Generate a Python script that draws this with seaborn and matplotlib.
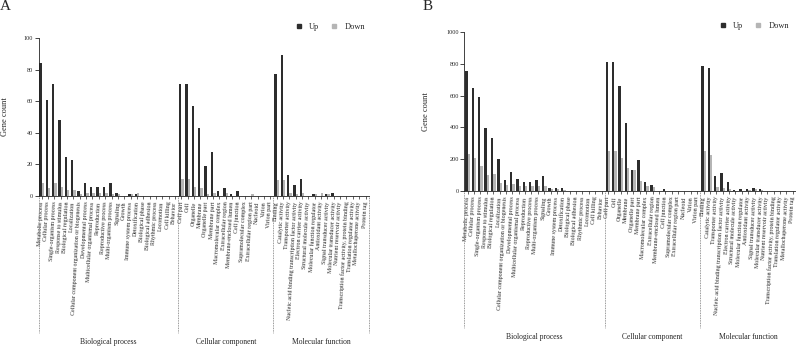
import matplotlib.pyplot as plt
import pandas as pd
import seaborn as sns
from matplotlib.patches import Patch

sns.set_style("ticks")
plt.rcParams['font.family'] = ['Liberation Serif', 'DejaVu Serif']

bp_terms = ['Metabolic process', 'Cellular process', 'Single-organism process',
            'Response to stimulus', 'Biological regulation', 'Localization',
            'Cellular component organization or biogenesis', 'Developmental process',
            'Multicellular organismal process', 'Reproduction', 'Reproductive process',
            'Multi-organism process', 'Signaling', 'Growth', 'Immune system process',
            'Detoxification', 'Biological phase', 'Biological adhesion',
            'Rhythmic process', 'Locomotion', 'Cell killing', 'Behavior']
cc_terms = ['Cell part', 'Cell', 'Organelle', 'Membrane', 'Organelle part',
            'Membrane part', 'Macromolecular complex', 'Extracellular region',
            'Membrane-enclosed lumen', 'Cell junction', 'Supramolecular complex',
            'Extracellular region part', 'Nucleoid', 'Virion', 'Virion part']
mf_terms = ['Binding', 'Catalytic activity', 'Transporter activity',
            'Nucleic acid binding transcription factor activity',
            'Electron carrier activity', 'Structural molecule activity',
            'Molecular function regulator', 'Antioxidant activity',
            'Signal transducer activity', 'Molecular transducer activity',
            'Nutrient reservoir activity', 'Transcription factor activity, protein binding',
            'Translation regulator activity', 'Metallochaperone activity', 'Protein tag']
terms = bp_terms + cc_terms + mf_terms
groups = ['Biological process', 'Cellular component', 'Molecular function']

# panel A
up_a = [84, 61, 71, 48, 25, 23, 3, 8, 6, 6, 6, 8, 2, 0, 1, 1, 0, 0, 0, 0, 0, 0,
        71, 71, 57, 43, 19, 28, 3, 5, 1, 3, 0, 0, 0, 0, 0,
        77, 89, 13, 7, 11, 0, 1, 0, 1, 2, 0, 0, 0, 0, 0]
down_a = [8, 5, 8, 6, 4, 4, 1, 2, 2, 2, 2, 1, 1, 0, 1, 2, 0, 0, 0, 0, 0, 0,
          11, 11, 6, 5, 1, 2, 0, 2, 0, 0, 0, 1, 0, 0, 0,
          10, 10, 2, 1, 2, 0, 1, 2, 1, 0, 0, 0, 0, 0, 0]
# panel B
up_b = [752, 646, 589, 398, 331, 200, 72, 120, 76, 55, 55, 72, 93, 19, 17, 19, 0, 0, 0, 0, 0, 0,
        810, 810, 663, 427, 133, 198, 55, 40, 0, 10, 0, 3, 0, 0, 0,
        787, 773, 97, 112, 55, 5, 10, 13, 19, 15, 0, 0, 0, 0, 0]
down_b = [232, 210, 156, 103, 105, 53, 36, 42, 29, 32, 29, 32, 32, 12, 10, 6, 0, 0, 0, 0, 0, 0,
          252, 252, 208, 143, 130, 63, 30, 25, 0, 3, 0, 3, 0, 0, 0,
          250, 225, 23, 21, 15, 0, 2, 8, 15, 6, 0, 0, 0, 0, 0]

yticks_a = [0, 20, 40, 60, 80, 100]
yticks_b = [0, 200, 400, 600, 800, 1000]

pal = {'Up': '#2d2d2d', 'Down': '#b5b5b5'}


def draw(ax, up, down, yticks, sep_y, lab_y, ylab_x):
    df = pd.DataFrame({'term': terms, 'Up': up, 'Down': down})
    df = df.melt(id_vars='term', var_name='reg', value_name='count')
    sns.barplot(data=df, x='term', y='count', hue='reg', hue_order=['Up', 'Down'],
                palette=pal, width=0.75, saturation=1, legend=False, ax=ax,
                linewidth=0, edgecolor='none')
    ax.set_xlim(-0.5, len(terms) - 0.5)
    ax.set_ylim(0, yticks[-1])
    ax.set_yticks(yticks)
    ax.set_xticks(range(len(terms)))
    ax.set_xticklabels(terms, rotation=87, ha='right', va='center',
                       rotation_mode='anchor', fontsize=4.3)
    ax.tick_params(axis='x', length=2, width=0.5, pad=2)
    ax.tick_params(axis='y', length=3, width=0.6, pad=1, labelsize=4.5)
    ax.set_xlabel('')
    ax.set_ylabel('Gene count', fontsize=6)
    ax.yaxis.set_label_coords(ylab_x, 0.5)
    sns.despine(ax=ax)
    for s in ['left', 'bottom']:
        ax.spines[s].set_linewidth(0.6)
        ax.spines[s].set_color('#222222')
    # group separators and labels
    n1, n2 = len(bp_terms), len(bp_terms) + len(cc_terms)
    bounds = [-0.5, n1 - 0.5, n2 - 0.5, len(terms) - 0.5]
    for xv in bounds:
        ax.plot([xv, xv], [0, sep_y], transform=ax.get_xaxis_transform(),
                clip_on=False, ls=(0, (1, 1)), color='#777777', lw=0.6)
    for i, g in enumerate(groups):
        ax.text((bounds[i] + bounds[i + 1]) / 2, lab_y, g, fontsize=5.5,
                ha='center', va='center', transform=ax.get_xaxis_transform())


fig = plt.figure(figsize=(7.96, 3.48), dpi=100)
ax_a = fig.add_axes([38.5 / 796, 152 / 348, 330.2 / 796, 158 / 348])
ax_b = fig.add_axes([464.5 / 796, 157 / 348, 331.5 / 796, 159 / 348])

draw(ax_a, up_a, down_a, yticks_a, -0.867, -0.924, -0.088)
draw(ax_b, up_b, down_b, yticks_b, -0.862, -0.918, -0.105)

handles = [Patch(color=pal['Up']), Patch(color=pal['Down'])]
for cx, cy in [(331, 27), (755, 26)]:
    fig.legend(handles, ['Up', 'Down'], loc='center', bbox_to_anchor=(cx / 796, 1 - cy / 348),
               ncol=2, frameon=False, fontsize=6, handlelength=0.5, handleheight=0.5,
               handletextpad=1.0, columnspacing=1.5)

fig.text(0 / 796, 1 - 7 / 348, 'A', fontsize=11, va='center', ha='left')
fig.text(423 / 796, 1 - 7 / 348, 'B', fontsize=11, va='center', ha='left')

fig.savefig('out.png', dpi=100)
